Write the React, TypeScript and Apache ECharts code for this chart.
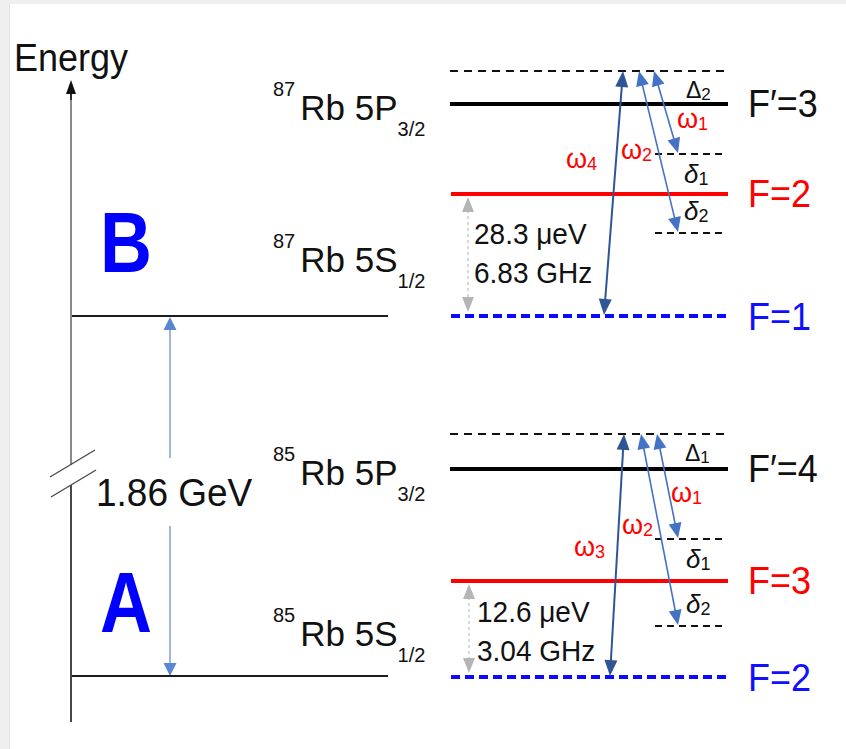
import React, { useEffect, useRef } from "react";
import * as echarts from "echarts";

// ---------------- data (schematic energy coordinates, increasing downwards) ----------------
const axisTitle = "Energy";
const isotopeShift = "1.86 GeV";
const isotopeMass = ["87", "85"];
const groupLetter = ["B", "A"];
const groundRefLevel = [316, 676]; // 5S1/2 reference line of each isotope on the energy axis
const excitedLabel = ["F′=3", "F′=4"];
const excitedLevel = [104, 469];
const upperHfLabel = ["F=2", "F=3"];
const upperHfLevel = [194, 581];
const lowerHfLabel = ["F=1", "F=2"];
const lowerHfLevel = [316, 677];
const virtualLevel = [71, 434]; // Δ-detuned level
const delta1Level = [154, 539];
const delta2Level = [233, 626];
const detuningSub = ["2", "1"];
const pumpSub = ["4", "3"];
const splittingEnergy = ["28.3 μeV", "12.6 μeV"];
const splittingFreq = ["6.83 GHz", "3.04 GHz"];

// ---------------- layout (positions only) ----------------
const groupLayout = [
  {
    pump: [604, 623], w2: [639, 678], w1: [654, 678],
    wpLbl: [566, 159], w2Lbl: [621, 150], w1Lbl: [677, 119],
    DeltaX: 686, dX: 684, gapX: 468, gapTextX: 474, gapTextY: [234, 273],
  },
  {
    pump: [610, 624], w2: [641, 678], w1: [657, 678],
    wpLbl: [574, 547], w2Lbl: [622, 525], w1Lbl: [671, 493],
    DeltaX: 685, dX: 686, gapX: 469, gapTextX: 477, gapTextY: [612, 651],
  },
];

const FF = '"Liberation Sans", Arial, Helvetica, sans-serif';
const font = (size: number, extra = "") => `${extra} ${size}px ${FF}`.trim();

type Item = any;

function buildItems(): Item[] {
  const items: Item[] = [];
  const seg = (p: number[], color: string, w: number, dash?: number[]) =>
    items.push({ kind: "seg", p, color, w, dash });
  const arrow = (p: number[], heads: boolean[], color: string, w: number, hl: number, hw: number, headColor?: string, dash?: number[]) =>
    items.push({ kind: "arrow", p, heads, color, w, hl, hw, headColor: headColor || color, dash });
  const text = (x: number, y: number, t: string, f: string, color: string, opts: any = {}) =>
    items.push({ kind: "text", x, y, text: t, font: f, color, ...opts });

  // energy axis
  seg([71, 92, 71, 465], "#8a8a8a", 2);
  seg([71, 485, 71, 722], "#474747", 2);
  arrow([71, 100, 71, 80], [false, true], "#111", 1.5, 14, 5);
  seg([50, 477, 95, 450], "#4a4a4a", 1.4);
  seg([51, 497, 96, 470], "#4a4a4a", 1.4);

  // isotope gap arrow
  arrow([170, 458, 170, groundRefLevel[0] + 1], [false, true], "#5b86d1", 1.2, 13, 6.5);
  arrow([170, 526, 170, groundRefLevel[1]], [false, true], "#5b86d1", 1.2, 13, 6.5);

  for (let g = 0; g < 2; g++) {
    const L = groupLayout[g];
    seg([72, groundRefLevel[g], 388, groundRefLevel[g]], "#1c1c1c", 2);
    seg([450, virtualLevel[g], 727, virtualLevel[g]], "#111", 2, [8, 6]);
    seg([450, excitedLevel[g], 728, excitedLevel[g]], "#000", 4);
    seg([451, upperHfLevel[g], 728, upperHfLevel[g]], "#ff0000", 4);
    seg([451, lowerHfLevel[g], 727, lowerHfLevel[g]], "#0a0aff", 4, [9, 5]);
    seg([655, delta1Level[g], 725, delta1Level[g]], "#111", 2, [7, 5]);
    seg([655, delta2Level[g], 725, delta2Level[g]], "#111", 2, [7, 5]);

    // hyperfine splitting arrow
    arrow([L.gapX, upperHfLevel[g] + 3, L.gapX, lowerHfLevel[g] - 4], [true, true], "#b0b0b0", 1, 15, 6, "#b5b5b5", [3, 3]);

    // laser transitions
    arrow([L.pump[0], lowerHfLevel[g] - 1, L.pump[1], virtualLevel[g]], [true, true], "#2f5597", 2, 16, 6.5);
    arrow([L.w2[0], virtualLevel[g], L.w2[1], delta2Level[g] - 1], [true, true], "#4472c4", 1.6, 15, 6.5);
    arrow([L.w1[0], virtualLevel[g], L.w1[1], delta1Level[g] - 1], [true, true], "#4472c4", 1.6, 15, 6.5);
  }

  // texts
  text(14, 57, axisTitle, font(36), "#111", { sy: 1.1 });
  text(96, 493, isotopeShift, font(37), "#111", { sy: 1.04 });

  const stateRich = {
    sup: { font: font(20), height: 20, verticalAlign: "top", padding: [0, 5, 0, 0] },
    main: { font: font(35), lineHeight: 56 },
    sub: { font: font(20), height: 12, verticalAlign: "bottom" },
  };
  const omegaRich = (color: string) => ({
    w: { font: font(27), lineHeight: 30, fill: color },
    s: { font: font(18), height: 21, verticalAlign: "bottom", fill: color },
  });
  const deltaRich = {
    d: { font: font(26, "italic"), lineHeight: 30 },
    s: { font: font(18), height: 21, verticalAlign: "bottom" },
  };
  const DeltaRich = {
    d: { font: font(23), lineHeight: 27 },
    s: { font: font(17), height: 19, verticalAlign: "bottom" },
  };

  for (let g = 0; g < 2; g++) {
    const L = groupLayout[g];
    text(273, excitedLevel[g] + 3, `{sup|${isotopeMass[g]}}{main|Rb 5P}{sub|3/2}`, font(35), "#111", { rich: stateRich });
    text(273, (upperHfLevel[g] + lowerHfLevel[g]) / 2 + 4, `{sup|${isotopeMass[g]}}{main|Rb 5S}{sub|1/2}`, font(35), "#111", { rich: stateRich });
    text(126, groundRefLevel[g] - 73, groupLetter[g], font(72, "bold"), "#0000ff", { align: "center", sy: 1.18 });

    text(748, excitedLevel[g], excitedLabel[g], font(36), "#111", { sy: 1.08 });
    text(748, upperHfLevel[g], upperHfLabel[g], font(36), "#ff0000", { sy: 1.08 });
    text(748, lowerHfLevel[g] + 1, lowerHfLabel[g], font(36), "#1010ff", { sy: 1.08 });

    text(L.DeltaX, virtualLevel[g] + 19, `{d|Δ}{s|${detuningSub[g]}}`, font(23), "#111", { rich: DeltaRich });
    text(L.dX, delta1Level[g] + 20, `{d|δ}{s|1}`, font(26), "#111", { rich: deltaRich });
    text(L.dX, delta2Level[g] - 22, `{d|δ}{s|2}`, font(26), "#111", { rich: deltaRich });

    text(L.wpLbl[0], L.wpLbl[1], `{w|ω}{s|${pumpSub[g]}}`, font(27), "#ff0000", { rich: omegaRich("#ff0000") });
    text(L.w2Lbl[0], L.w2Lbl[1], `{w|ω}{s|2}`, font(27), "#ff0000", { rich: omegaRich("#ff0000") });
    text(L.w1Lbl[0], L.w1Lbl[1], `{w|ω}{s|1}`, font(27), "#ff0000", { rich: omegaRich("#ff0000") });

    text(L.gapTextX, L.gapTextY[0], splittingEnergy[g], font(28), "#111", { sy: 1.08 });
    text(L.gapTextX, L.gapTextY[1], splittingFreq[g], font(28), "#111", { sy: 1.08 });
  }
  return items;
}

const items = buildItems();

function headShape(t: number[], f: number[], len: number, hw: number, fill: string) {
  const dx = t[0] - f[0];
  const dy = t[1] - f[1];
  const L = Math.hypot(dx, dy) || 1;
  const ux = dx / L;
  const uy = dy / L;
  const bx = t[0] - ux * len;
  const by = t[1] - uy * len;
  return {
    type: "polygon",
    shape: { points: [[t[0], t[1]], [bx - uy * hw, by + ux * hw], [bx + uy * hw, by - ux * hw]] },
    style: { fill },
  };
}

function renderItem(params: any, api: any) {
  const it = items[params.dataIndex];
  if (it.kind === "seg") {
    const a = api.coord([it.p[0], it.p[1]]);
    const b = api.coord([it.p[2], it.p[3]]);
    return {
      type: "line",
      shape: { x1: a[0], y1: a[1], x2: b[0], y2: b[1] },
      style: { stroke: it.color, lineWidth: it.w, lineDash: it.dash || null, fill: null },
    };
  }
  if (it.kind === "arrow") {
    const a = api.coord([it.p[0], it.p[1]]);
    const b = api.coord([it.p[2], it.p[3]]);
    const dx = b[0] - a[0];
    const dy = b[1] - a[1];
    const L = Math.hypot(dx, dy) || 1;
    const ux = dx / L;
    const uy = dy / L;
    const s = it.heads[0] ? [a[0] + ux * (it.hl - 2), a[1] + uy * (it.hl - 2)] : a;
    const e = it.heads[1] ? [b[0] - ux * (it.hl - 2), b[1] - uy * (it.hl - 2)] : b;
    const children: any[] = [
      {
        type: "line",
        shape: { x1: s[0], y1: s[1], x2: e[0], y2: e[1] },
        style: { stroke: it.color, lineWidth: it.w, lineDash: it.dash || null, fill: null },
      },
    ];
    if (it.heads[0]) children.push(headShape(a, b, it.hl, it.hw, it.headColor));
    if (it.heads[1]) children.push(headShape(b, a, it.hl, it.hw, it.headColor));
    return { type: "group", children };
  }
  const p = api.coord([it.x, it.y]);
  const align = it.align || "left";
  return {
    type: "text",
    x: p[0],
    y: p[1],
    scaleY: it.sy || 1,
    style: {
      text: it.text,
      font: it.font,
      fill: it.color,
      align,
      verticalAlign: "middle",
      textAlign: align,
      textVerticalAlign: "middle",
      rich: it.rich,
    },
  };
}

export default function App() {
  const ref = useRef<HTMLDivElement>(null);
  useEffect(() => {
    if (!ref.current) return;
    const chart = echarts.init(ref.current, undefined, { renderer: "svg" });
    chart.setOption({
      animation: false,
      backgroundColor: "#ffffff",
      grid: { left: 0, right: 0, top: 0, bottom: 0 },
      xAxis: { type: "value", min: 0, max: 846, show: false },
      yAxis: { type: "value", min: 0, max: 749, inverse: true, show: false },
      graphic: [
        { type: "rect", left: 0, top: 0, shape: { width: 9, height: 749 }, style: { fill: "#efefef" }, silent: true },
        { type: "rect", left: 9, top: 0, shape: { width: 1, height: 749 }, style: { fill: "#e2e2e2" }, silent: true },
        { type: "rect", left: 0, top: 0, shape: { width: 846, height: 4 }, style: { fill: "#efefef" }, silent: true },
      ],
      series: [
        {
          type: "custom",
          coordinateSystem: "cartesian2d",
          data: items.map((_, i) => [i, 0]),
          renderItem,
          clip: false,
          silent: true,
        },
      ],
    });
    return () => chart.dispose();
  }, []);
  return (
    <div
      ref={ref}
      style={{ position: "fixed", left: 0, top: 0, width: 846, height: 749, background: "#fff" }}
    />
  );
}
